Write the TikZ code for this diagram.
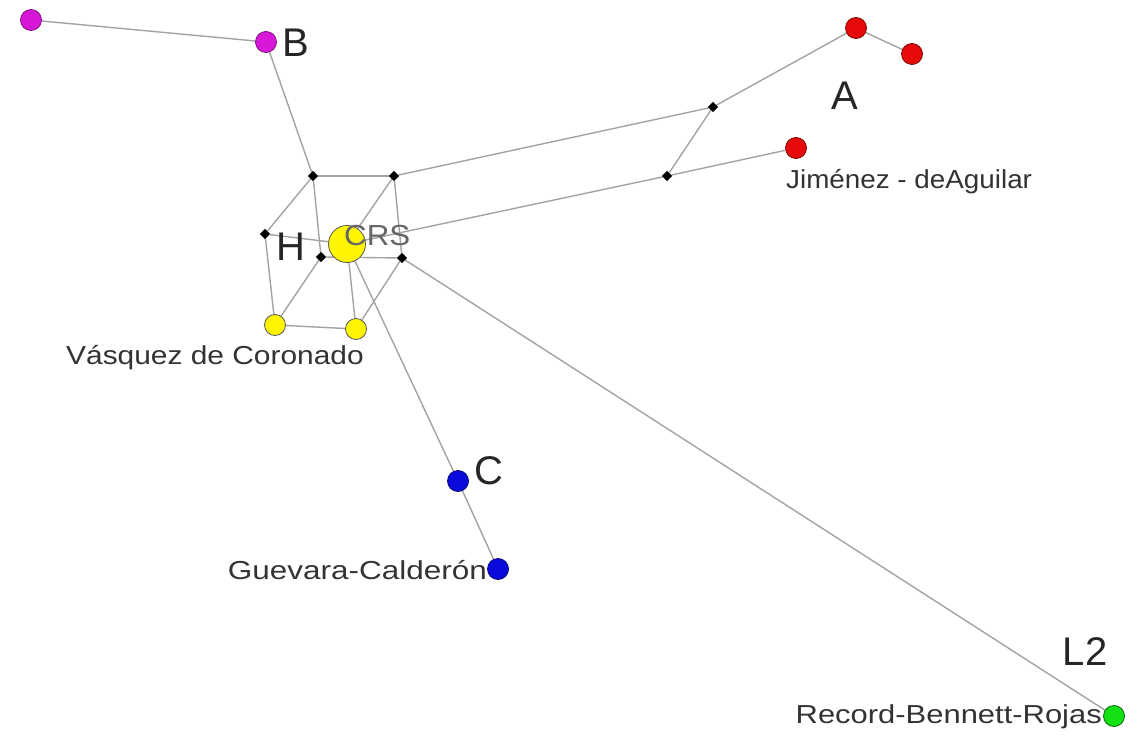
\documentclass[tikz,border=0pt]{standalone}
\usepackage{fontspec}
\setmainfont{Liberation Sans}
\usetikzlibrary{shapes.geometric,backgrounds}
\definecolor{magfill}{RGB}{215,25,215}
\definecolor{redfill}{RGB}{230,10,10}
\definecolor{blufill}{RGB}{10,10,220}
\definecolor{grnfill}{RGB}{20,225,20}
\definecolor{yelfill}{RGB}{255,245,0}
\begin{document}
\begin{tikzpicture}[x=1pt,y=-1pt,
  edge/.style={draw=black!36,line width=1.4pt},
  dot/.style={circle,inner sep=0pt,minimum size=21pt,line width=0.8pt},
  magnode/.style={dot,fill=magfill,draw=magfill!60!black},
  rednode/.style={dot,fill=redfill,draw=redfill!55!black},
  yelnode/.style={dot,fill=yelfill,draw=black!65},
  blunode/.style={dot,fill=blufill,draw=blufill!55!black},
  grnnode/.style={dot,fill=grnfill,draw=grnfill!45!black},
  blk/.style={diamond,fill=black,inner sep=0pt,minimum size=10.5pt},
  big/.style={font=\fontsize{40}{40}\selectfont,text=black!85,inner sep=0pt},
  lab/.style={font=\fontsize{26}{26}\selectfont,text=black!80,inner sep=0pt}]
\useasboundingbox (0,0) rectangle (1137,738);
% nodes
\node[magnode] (m1) at (31,20) {};
\node[magnode] (m2) at (266,42) {};
\node[rednode] (r1) at (856,28) {};
\node[rednode] (r2) at (912,54) {};
\node[rednode] (r3) at (796,148) {};
\node[blk] (k1) at (713,107) {};
\node[blk] (k2) at (667,176) {};
\node[blk] (p1) at (313,176) {};
\node[blk] (p2) at (394,176) {};
\node[blk] (p3) at (265,234) {};
\node[blk] (p4) at (321,257) {};
\node[blk] (p5) at (402,258) {};
\node[yelnode] (y1) at (275,325) {};
\node[yelnode] (y2) at (356,329) {};
\node[blunode] (c1) at (458,481) {};
\node[blunode] (c2) at (498,569) {};
\node[grnnode] (g) at (1114,716) {};
\node[yelnode,minimum size=37pt] (crs) at (347,244) {};
% edges
\begin{scope}[on background layer]
\fill[white] (0,0) rectangle (1137,738);
\draw[edge] (m1) -- (m2);
\draw[edge] (m2) -- (p1);
\draw[edge] (p1) -- (p2);
\draw[edge] (p2) -- (k1);
\draw[edge] (k1) -- (r1);
\draw[edge] (r1) -- (r2);
\draw[edge] (k1) -- (k2);
\draw[edge] (k2) -- (r3);
\draw[edge] (crs.center) -- (k2);
\draw[edge] (p1) -- (p3);
\draw[edge] (p1) -- (p4);
\draw[edge] (p2) -- (crs.center);
\draw[edge] (p2) -- (p5);
\draw[edge] (p3) -- (crs.center);
\draw[edge] (p3) -- (y1);
\draw[edge] (p4) -- (y1);
\draw[edge] (p4) -- (p5);
\draw[edge] (crs.center) -- (y2);
\draw[edge] (p5) -- (y2);
\draw[edge] (y1) -- (y2);
\draw[edge] (crs.center) -- (c1);
\draw[edge] (c1) -- (c2);
\draw[edge] (p5) -- (g);
\end{scope}
% labels
\node[big,anchor=west] (lb) at (282,43) {B};
\node[big] (la) at (845,96) {A};
\node[big] (lh) at (291,247) {H};
\node[big,anchor=west] (lc) at (474,471) {C};
\node[big] (ll) at (1085,652) {L2};
\node[lab,font=\fontsize{29}{29}\selectfont,text=black!60,anchor=west] (lcrs) at (344,236) {\scalebox{1.08}[1]{CRS}};
\node[lab,anchor=west] (lj) at (786,182) {\scalebox{1.07}[1]{Jiménez - deAguilar}};
\node[lab,anchor=west] (lv) at (66,358) {\scalebox{1.15}[1]{Vásquez de Coronado}};
\node[lab,anchor=east] (lg) at (487,570) {\scalebox{1.21}[1]{Guevara-Calderón}};
\node[lab,anchor=east] (lr) at (1102,717) {\scalebox{1.19}[1]{Record-Bennett-Rojas}};
\end{tikzpicture}
\end{document}
